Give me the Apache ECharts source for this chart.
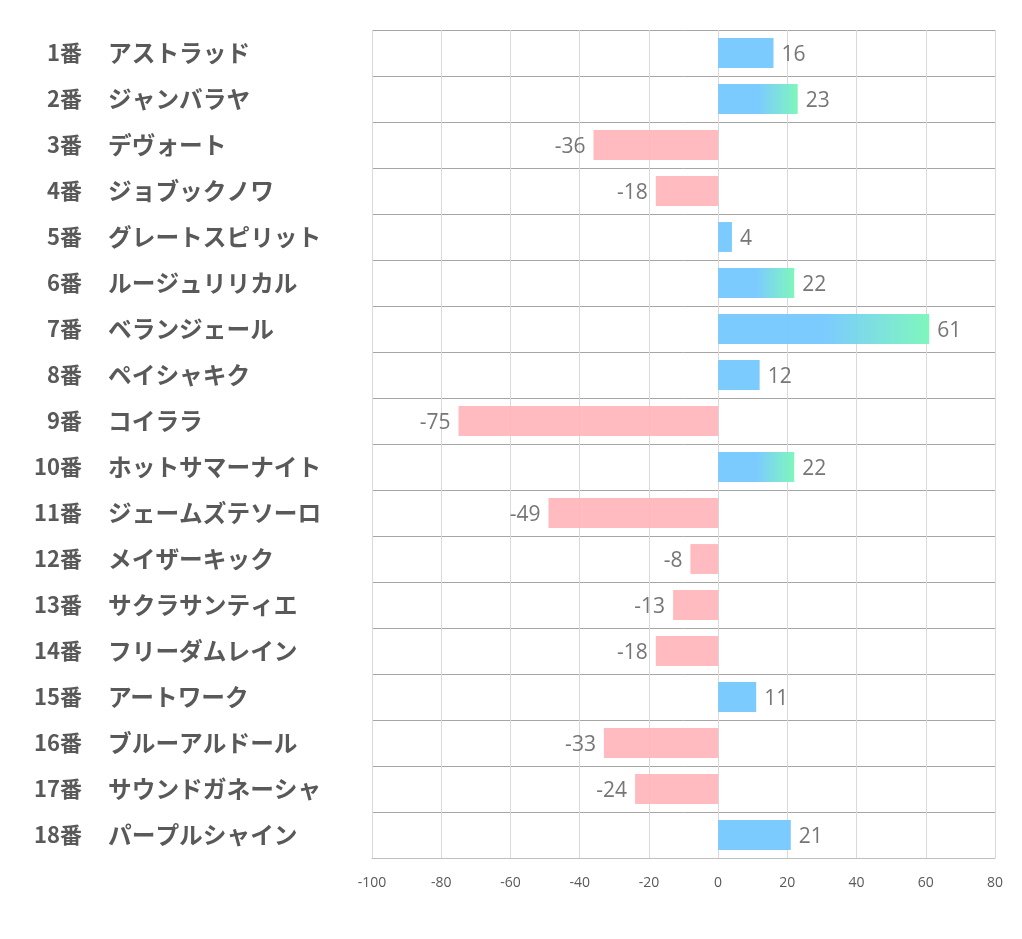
<!DOCTYPE html>
<html>
<head>
<meta charset="utf-8">
<script src="https://cdn.jsdelivr.net/npm/echarts@6/dist/echarts.min.js"></script>
<style>html,body{margin:0;padding:0;background:#fff}#c{width:1022px;height:939px}</style>
</head>
<body>
<div id="c"></div>
<script>
const numbers = ["1番","2番","3番","4番","5番","6番","7番","8番","9番","10番","11番","12番","13番","14番","15番","16番","17番","18番"];
const horseNames = ["アストラッド","ジャンバラヤ","デヴォート","ジョブックノワ","グレートスピリット","ルージュリリカル","ベランジェール","ペイシャキク","コイララ","ホットサマーナイト","ジェームズテソーロ","メイザーキック","サクラサンティエ","フリーダムレイン","アートワーク","ブルーアルドール","サウンドガネーシャ","パープルシャイン"];
const values = [16, 23, -36, -18, 4, 22, 61, 12, -75, 22, -49, -8, -13, -18, 11, -33, -24, 21];
const xTicks = [-100, -80, -60, -40, -20, 0, 20, 40, 60, 80];

const BLUE = 'rgba(117,200,255,0.95)';
const GREEN = 'rgba(120,246,186,0.95)';
const PINK = 'rgba(255,180,184,0.9)';

const chart = echarts.init(document.getElementById('c'), null, {renderer: 'canvas'});
const seriesData = values.map(v => {
  let color;
  if (v < 0) color = PINK;
  else if (v >= 22) color = new echarts.graphic.LinearGradient(0, 0, 1, 0, [
    {offset: 0, color: BLUE}, {offset: 0.5, color: BLUE}, {offset: 1, color: GREEN}]);
  else color = BLUE;
  return {
    value: v,
    itemStyle: {color},
    label: {position: v < 0 ? 'left' : 'right'}
  };
});

const labelFont = {fontWeight: 'bold', color: '#595959', fontFamily: 'Noto Sans CJK JP'};

chart.setOption({
  animation: false,
  grid: {left: 372, right: 27, top: 30, bottom: 81, containLabel: false},
  xAxis: {
    type: 'value', min: xTicks[0], max: xTicks[xTicks.length - 1], interval: 20,
    axisLine: {show: true, lineStyle: {color: '#BFBFBF', width: 1}},
    axisTick: {show: false},
    splitLine: {show: true, lineStyle: {color: '#D9D9D9', width: 1}},
    axisLabel: {color: '#595959', fontSize: 14, margin: 18, fontFamily: 'Open Sans'}
  },
  yAxis: [{
    type: 'category', inverse: true, data: numbers, position: 'left',
    axisLine: {show: false}, axisTick: {show: false},
    splitLine: {show: true, lineStyle: {color: '#A6A6A6', width: 1}},
    axisLabel: Object.assign({align: 'right', margin: 290, fontSize: 22}, labelFont)
  }, {
    type: 'category', inverse: true, data: horseNames, position: 'left',
    axisLine: {show: false}, axisTick: {show: false},
    splitLine: {show: false},
    axisLabel: Object.assign({align: 'left', margin: 264, fontSize: 23.7}, labelFont)
  }],
  series: [{
    type: 'bar', yAxisIndex: 0, data: seriesData, barCategoryGap: '35%',
    label: {show: true, distance: 8, color: '#767676', fontSize: 21, fontFamily: 'Open Sans', offset: [0, 2]}
  }]
});
</script>
</body>
</html>
